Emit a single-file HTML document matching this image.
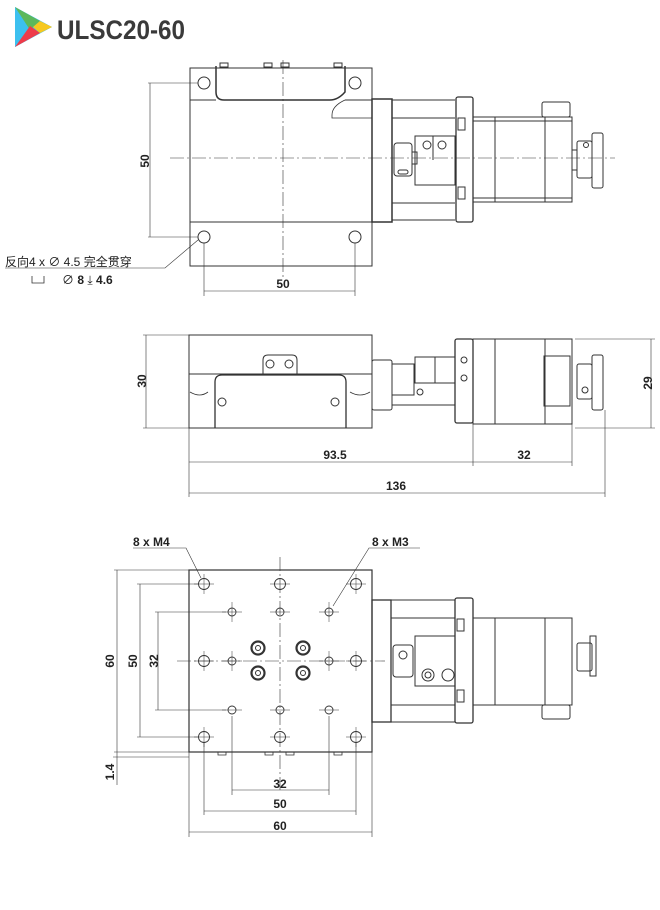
<!DOCTYPE html>
<html><head><meta charset="utf-8"><style>
html,body{margin:0;padding:0;background:#fff;width:660px;height:910px;overflow:hidden}
svg{display:block}
text{font-family:"Liberation Sans","Noto Sans CJK SC",sans-serif}
.d{font-weight:bold;font-size:12px;fill:#222}
</style></head><body>
<svg width="660" height="910" viewBox="0 0 660 910" xmlns="http://www.w3.org/2000/svg">
<!-- logo -->
<polygon points="15,7 52,27 15,47" fill="#3cc0ef"/>
<polygon points="15,7 40,21 30,30" fill="#5cb85c"/>
<polygon points="40,21 52,27 40,33 33,27" fill="#f7c820"/>
<polygon points="15,47 40,33 30,26" fill="#ee3b4a"/>
<text x="57" y="39" font-size="27" font-weight="bold" fill="#3a3a3a" textLength="128" lengthAdjust="spacingAndGlyphs">ULSC20-60</text>

<g fill="none" stroke="#333" stroke-width="1">
<!-- ===== TOP VIEW ===== -->
<rect x="190" y="68" width="182" height="198"/>
<line x1="190" y1="100" x2="216" y2="100"/><line x1="345" y1="100" x2="372" y2="100"/>
<line x1="190" y1="222" x2="372" y2="222"/>
<path d="M216,66 V92 Q216,100 224,100 H330 Q338,100 345,92 V66" stroke-width="1.5"/>
<path d="M345,100 Q332,106 332,115 L332,118 H372" stroke-width="0.8"/>
<circle cx="204" cy="83" r="6"/><circle cx="355" cy="83" r="6"/>
<circle cx="204" cy="237" r="6"/><circle cx="355" cy="237" r="6"/>
<rect x="220" y="63" width="8" height="4"/><rect x="264" y="63" width="8" height="4"/><rect x="281" y="63" width="8" height="4"/><rect x="334" y="63" width="8" height="4"/>
<rect x="372" y="99" width="20" height="123" stroke-width="1.5"/>
<line x1="392" y1="100" x2="455" y2="100"/><line x1="392" y1="118" x2="455" y2="118"/>
<line x1="392" y1="203" x2="455" y2="203"/><line x1="392" y1="220" x2="455" y2="220"/>
<rect x="394" y="143" width="18" height="33" rx="3"/><rect x="412" y="152" width="5" height="12"/>
<rect x="398" y="170" width="10" height="4" rx="2"/>
<rect x="415" y="136" width="40" height="49"/><line x1="433" y1="136" x2="433" y2="160"/>
<circle cx="427" cy="145" r="4"/><circle cx="442" cy="145" r="4"/>
<rect x="456" y="97" width="17" height="125" rx="2" stroke-width="1.3"/>
<rect x="458" y="118" width="7" height="12"/><rect x="458" y="187" width="7" height="12"/>
<rect x="473" y="117" width="99" height="85"/><line x1="473" y1="121" x2="572" y2="121"/><line x1="473" y1="198" x2="572" y2="198"/>
<line x1="495" y1="117" x2="495" y2="202"/><line x1="545" y1="117" x2="545" y2="202"/>
<rect x="542" y="102" width="28" height="15" rx="2"/>
<rect x="572" y="150" width="5" height="20"/><rect x="577" y="141" width="15" height="37" rx="2"/>
<rect x="592" y="133" width="11" height="55" rx="2"/><circle cx="586" cy="145" r="2.5"/>
<!-- center lines -->
<line x1="283" y1="60" x2="283" y2="280" stroke-width="0.6" stroke-dasharray="14,3,2,3"/>
<line x1="170" y1="158" x2="615" y2="158" stroke-width="0.6" stroke-dasharray="14,3,2,3"/>
<!-- dims top -->
<line x1="148" y1="83" x2="198" y2="83" stroke-width="0.6"/><line x1="148" y1="237" x2="198" y2="237" stroke-width="0.6"/>
<line x1="150" y1="83" x2="150" y2="237" stroke-width="0.6"/>
<line x1="204" y1="243" x2="204" y2="296" stroke-width="0.6"/><line x1="355" y1="243" x2="355" y2="296" stroke-width="0.6"/>
<line x1="204" y1="291" x2="355" y2="291" stroke-width="0.6"/>
<polyline points="198,240 165,268 5,268" stroke-width="0.6"/>
<polyline points="32,276 32,283 44,283 44,276" stroke-width="0.8"/>

<!-- ===== SIDE VIEW ===== -->
<rect x="189" y="335" width="183" height="93"/>
<line x1="189" y1="374" x2="372" y2="374"/>
<path d="M215,428 V382 Q215,375 222,375 H339 Q346,375 346,382 V428" stroke-width="1.3"/>
<path d="M263,375 V360 Q263,355 268,355 H292 Q297,355 297,360 V375"/>
<circle cx="270" cy="364" r="4"/><circle cx="289" cy="364" r="4"/>
<circle cx="222" cy="402" r="4"/><circle cx="335" cy="402" r="4"/>
<path d="M190,392 Q200,398 208,392 M350,392 Q360,398 370,392" stroke-width="0.8"/>
<rect x="372" y="360" width="20" height="50" rx="2"/>
<rect x="392" y="364" width="22" height="31"/>
<rect x="415" y="357" width="40" height="26"/><line x1="435" y1="357" x2="435" y2="383"/>
<line x1="392" y1="405" x2="455" y2="405"/><circle cx="420" cy="392" r="3"/>
<rect x="455" y="339" width="18" height="84" rx="2" stroke-width="1.3"/>
<circle cx="464" cy="360" r="3"/><circle cx="464" cy="378" r="3"/>
<rect x="473" y="339" width="99" height="85"/><line x1="495" y1="339" x2="495" y2="424"/><line x1="545" y1="339" x2="545" y2="424"/>
<rect x="544" y="356" width="26" height="50"/>
<rect x="577" y="364" width="15" height="35" rx="2"/><rect x="592" y="355" width="11" height="55" rx="2"/><circle cx="585" cy="390" r="3"/>
<!-- side dims -->
<line x1="143" y1="335" x2="189" y2="335" stroke-width="0.6"/><line x1="143" y1="428" x2="189" y2="428" stroke-width="0.6"/>
<line x1="146" y1="335" x2="146" y2="428" stroke-width="0.6"/>
<line x1="575" y1="339" x2="655" y2="339" stroke-width="0.6"/><line x1="575" y1="428" x2="655" y2="428" stroke-width="0.6"/>
<line x1="651" y1="339" x2="651" y2="428" stroke-width="0.6"/>
<line x1="189" y1="428" x2="189" y2="497" stroke-width="0.6"/>
<line x1="473" y1="424" x2="473" y2="466" stroke-width="0.6"/>
<line x1="572" y1="424" x2="572" y2="466" stroke-width="0.6"/>
<line x1="605" y1="410" x2="605" y2="497" stroke-width="0.6"/>
<line x1="189" y1="462" x2="572" y2="462" stroke-width="0.6"/>
<line x1="189" y1="493" x2="605" y2="493" stroke-width="0.6"/>

<!-- ===== BOTTOM VIEW ===== -->
<rect x="189" y="570" width="183" height="182" stroke-width="1.2"/>
<path d="M218,752 v3 h8 v-3 M265,752 v3 h8 v-3 M286,752 v3 h8 v-3 M334,752 v3 h8 v-3" stroke-width="0.8"/>
<g stroke-width="0.9">
<circle cx="204" cy="584" r="5.5"/><circle cx="280" cy="584" r="5.5"/><circle cx="356" cy="584" r="5.5"/>
<circle cx="204" cy="661" r="5.5"/><circle cx="356" cy="661" r="5.5"/>
<circle cx="204" cy="737" r="5.5"/><circle cx="280" cy="737" r="5.5"/><circle cx="356" cy="737" r="5.5"/>
<circle cx="232" cy="612" r="4"/><circle cx="280" cy="612" r="4"/><circle cx="329" cy="612" r="4"/>
<circle cx="232" cy="661" r="4"/><circle cx="329" cy="661" r="4"/>
<circle cx="232" cy="710" r="4"/><circle cx="280" cy="710" r="4"/><circle cx="329" cy="710" r="4"/>
</g>
<g stroke-width="2.2"><circle cx="258" cy="648" r="6.5"/><circle cx="303" cy="648" r="6.5"/><circle cx="258" cy="673" r="6.5"/><circle cx="303" cy="673" r="6.5"/></g>
<g stroke-width="1"><circle cx="258" cy="648" r="2.5"/><circle cx="303" cy="648" r="2.5"/><circle cx="258" cy="673" r="2.5"/><circle cx="303" cy="673" r="2.5"/></g>
<g stroke-width="0.5">
<path d="M194,584h20M204,574v20M270,584h20M346,584h20M356,574v20M194,661h20M204,651v20M346,661h20M356,651v20M194,737h20M204,727v20M270,737h20M346,737h20M356,727v20"/>
<path d="M222,612h20M232,602v20M270,612h20M319,612h20M329,602v20M222,661h20M232,651v20M319,661h20M329,651v20M222,710h20M270,710h20M319,710h20"/>
</g>
<line x1="280" y1="557" x2="280" y2="790" stroke-width="0.6" stroke-dasharray="14,3,2,3"/>
<line x1="177" y1="661" x2="385" y2="661" stroke-width="0.6" stroke-dasharray="14,3,2,3"/>
<rect x="372" y="600" width="19" height="122" stroke-width="1.3"/>
<line x1="391" y1="600" x2="455" y2="600"/><line x1="391" y1="618" x2="455" y2="618"/><line x1="391" y1="705" x2="455" y2="705"/><line x1="391" y1="722" x2="455" y2="722"/>
<rect x="393" y="645" width="20" height="32" rx="3"/><circle cx="403" cy="655" r="4"/>
<rect x="415" y="636" width="40" height="50"/>
<circle cx="428" cy="675" r="6"/><circle cx="428" cy="675" r="3"/><circle cx="448" cy="675" r="6"/>
<rect x="455" y="598" width="18" height="125" rx="2" stroke-width="1.3"/>
<rect x="457" y="619" width="7" height="12"/><rect x="457" y="690" width="7" height="12"/>
<rect x="473" y="618" width="99" height="87"/><line x1="495" y1="618" x2="495" y2="705"/><line x1="545" y1="618" x2="545" y2="705"/>
<rect x="542" y="705" width="28" height="14" rx="2"/>
<rect x="577" y="643" width="15" height="28" rx="2"/><rect x="590" y="636" width="6" height="40"/>
<!-- bottom dims -->
<line x1="114" y1="570" x2="189" y2="570" stroke-width="0.6"/><line x1="114" y1="752" x2="189" y2="752" stroke-width="0.6"/>
<line x1="117" y1="570" x2="117" y2="752" stroke-width="0.6"/>
<line x1="137" y1="584" x2="198" y2="584" stroke-width="0.6"/><line x1="137" y1="737" x2="198" y2="737" stroke-width="0.6"/>
<line x1="140" y1="584" x2="140" y2="737" stroke-width="0.6"/>
<line x1="155" y1="612" x2="226" y2="612" stroke-width="0.6"/><line x1="155" y1="710" x2="226" y2="710" stroke-width="0.6"/>
<line x1="158" y1="612" x2="158" y2="710" stroke-width="0.6"/>
<line x1="113" y1="757" x2="189" y2="757" stroke-width="0.6"/>
<line x1="117" y1="752" x2="117" y2="785" stroke-width="0.6"/>
<line x1="232" y1="716" x2="232" y2="795" stroke-width="0.6"/><line x1="329" y1="716" x2="329" y2="795" stroke-width="0.6"/>
<line x1="204" y1="743" x2="204" y2="815" stroke-width="0.6"/><line x1="356" y1="743" x2="356" y2="815" stroke-width="0.6"/>
<line x1="189" y1="752" x2="189" y2="837" stroke-width="0.6"/><line x1="372" y1="752" x2="372" y2="837" stroke-width="0.6"/>
<line x1="232" y1="790" x2="329" y2="790" stroke-width="0.6"/>
<line x1="204" y1="811" x2="356" y2="811" stroke-width="0.6"/>
<line x1="189" y1="832" x2="372" y2="832" stroke-width="0.6"/>
<polyline points="133,548 186,548 201,578" stroke-width="0.6"/>
<polyline points="420,548 369,548 333,606" stroke-width="0.6"/>
</g>

<!-- text -->
<text class="d" x="0" y="0" transform="translate(149,161) rotate(-90)" text-anchor="middle">50</text>
<text class="d" x="283" y="288" text-anchor="middle">50</text>
<text x="5" y="266" font-size="12" fill="#222">反向4 x ∅ 4.5 完全贯穿</text>
<text x="62" y="284" font-size="12" fill="#222">∅ <tspan font-weight="bold">8</tspan> ⤓ <tspan font-weight="bold">4.6</tspan></text>
<text class="d" transform="translate(146,381) rotate(-90)" text-anchor="middle">30</text>
<text class="d" transform="translate(652,383) rotate(-90)" text-anchor="middle">29</text>
<text class="d" x="335" y="459" text-anchor="middle">93.5</text>
<text class="d" x="524" y="459" text-anchor="middle">32</text>
<text class="d" x="396" y="490" text-anchor="middle">136</text>
<text class="d" x="133" y="546">8 x  M4</text>
<text class="d" x="372" y="546">8 x  M3</text>
<text class="d" transform="translate(114,661) rotate(-90)" text-anchor="middle">60</text>
<text class="d" transform="translate(137,661) rotate(-90)" text-anchor="middle">50</text>
<text class="d" transform="translate(158,661) rotate(-90)" text-anchor="middle">32</text>
<text class="d" transform="translate(114,772) rotate(-90)" text-anchor="middle">1.4</text>
<text class="d" x="280" y="788" text-anchor="middle">32</text>
<text class="d" x="280" y="808" text-anchor="middle">50</text>
<text class="d" x="280" y="830" text-anchor="middle">60</text>
</svg>
</body></html>
